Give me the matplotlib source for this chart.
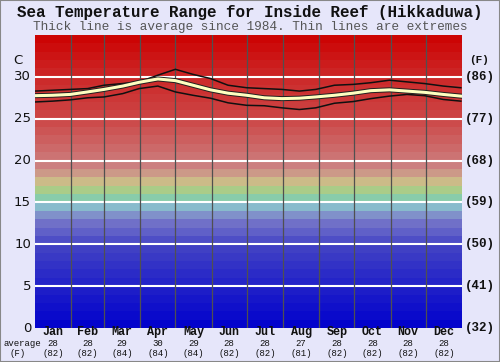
import matplotlib.pyplot as plt
import matplotlib.patheffects as pe
import numpy as np

# day-of-year samples, deg C
days = [0, 15, 30, 45, 59, 75, 89, 105, 120, 135, 150, 165, 181, 196, 211, 226, 240, 256, 272, 287, 303, 318, 333, 349, 364]
mean = [27.75, 27.8, 27.9, 28.2, 28.5, 28.9, 29.35, 29.75, 29.55, 29.0, 28.45, 28.05, 27.8, 27.5, 27.4, 27.45, 27.6, 27.8, 28.05, 28.35, 28.45, 28.3, 28.15, 27.9, 27.7]
upper = [28.3, 28.4, 28.5, 28.6, 29.0, 29.2, 29.4, 30.2, 30.9, 30.3, 29.8, 29.0, 28.7, 28.6, 28.5, 28.3, 28.5, 29.0, 29.1, 29.3, 29.6, 29.4, 29.2, 28.9, 28.7]
lower = [27.0, 27.1, 27.25, 27.5, 27.6, 28.0, 28.6, 28.9, 28.2, 27.8, 27.45, 26.9, 26.6, 26.55, 26.3, 26.1, 26.3, 26.85, 27.05, 27.4, 27.7, 27.9, 27.75, 27.3, 27.1]

months = ['Jan', 'Feb', 'Mar', 'Apr', 'May', 'Jun', 'Jul', 'Aug', 'Sep', 'Oct', 'Nov', 'Dec']
month_len = [31, 28, 31, 30, 31, 30, 31, 31, 30, 31, 30, 31]
month_c = [28, 28, 29, 30, 29, 28, 28, 27, 28, 28, 28, 28]
month_f = [82, 82, 84, 84, 84, 82, 82, 81, 82, 82, 82, 82]

c_ticks = [0, 5, 10, 15, 20, 25, 30]
f_ticks = [32, 41, 50, 59, 68, 77, 86]

# colour of each 1 degree band (anchor temps -> rgb)
anch_t = [0, 5, 10, 11, 13, 14, 15, 16, 17, 18, 19, 20, 25, 30, 35]
anch_c = [(0, 0, 204), (32, 32, 200), (68, 68, 196), (88, 88, 200), (120, 120, 200),
          (136, 170, 204), (136, 204, 204), (136, 204, 136), (204, 204, 136), (204, 170, 136),
          (204, 136, 136), (204, 120, 120), (204, 70, 70), (204, 40, 40), (204, 0, 0)]
anch_c = np.array(anch_c) / 255.0

bg = '#e6e6fa'
fig = plt.figure(figsize=(5, 3.62), dpi=100, facecolor=bg)
ax = fig.add_axes([35/500, 34/362, 427/500, 293/362])

for t in range(35):
    col = [np.interp(t + 0.5, anch_t, anch_c[:, k]) for k in range(3)]
    ax.axhspan(t, t + 1, color=col, lw=0)

for t in c_ticks[1:]:
    ax.axhline(t, color='white', lw=1.5)
edges = np.cumsum(month_len)
for e in edges[:-1]:
    ax.axvline(e, color='#505050', lw=0.9)

ax.plot(days, upper, color='#101010', lw=1.1)
ax.plot(days, lower, color='#101010', lw=1.1)
ax.plot(days, mean, color='#ffffc0', lw=2.2,
        path_effects=[pe.Stroke(linewidth=3.6, foreground='#202020'), pe.Normal()])

ax.set_xlim(0, 365)
ax.set_ylim(0, 35)
ax.set_xticks([])
ax.set_yticks([])
for s in ax.spines.values():
    s.set_visible(False)

def fx(px):
    return px / 500

def fy(py):
    return 1 - py / 362

mono = 'Liberation Mono'
fig.text(0.5, fy(12), 'Sea Temperature Range for Inside Reef (Hikkaduwa)', ha='center', va='center',
         family=mono, weight='bold', fontsize=11.4, color='#111111')
fig.text(0.5, fy(27), 'Thick line is average since 1984. Thin lines are extremes', ha='center', va='center',
         family=mono, fontsize=9.2, color='#555555')

for c, f in zip(c_ticks, f_ticks):
    yy = fy(328 - c * 293 / 35)
    fig.text(fx(31), yy, str(c), ha='right', va='center', fontsize=9.5, color='#111111')
    fig.text(fx(465), yy, '(%d)' % f, ha='left', va='center', family=mono, weight='bold', fontsize=9, color='#111111')
fig.text(fx(18), fy(60), 'C', ha='center', va='center', fontsize=9.5, color='#111111')
fig.text(fx(479), fy(60), '(F)', ha='center', va='center', family=mono, weight='bold', fontsize=8, color='#111111')

starts = np.concatenate([[0], edges[:-1]])
for m, s, n, c, f in zip(months, starts, month_len, month_c, month_f):
    xm = fx(35 + (s + n / 2) * 427 / 365)
    fig.text(xm, fy(332), m, ha='center', va='center', family=mono, weight='bold', fontsize=8.5, color='#111111')
    fig.text(xm, fy(343.5), str(c), ha='center', va='center', family=mono, fontsize=6.5, color='#111111')
    fig.text(xm, fy(353), '(%d)' % f, ha='center', va='center', family=mono, fontsize=6.5, color='#111111')
fig.text(fx(22), fy(343.5), 'average', ha='center', va='center', family=mono, fontsize=6.5, color='#111111')
fig.text(fx(18), fy(353), '(F)', ha='center', va='center', family=mono, fontsize=6.5, color='#111111')

fig.patches.append(plt.Rectangle((0, 0), 1, 1, transform=fig.transFigure, fill=False,
                                 edgecolor='#888888', lw=1.5))
fig.savefig('out.png', dpi=100, facecolor=bg)
